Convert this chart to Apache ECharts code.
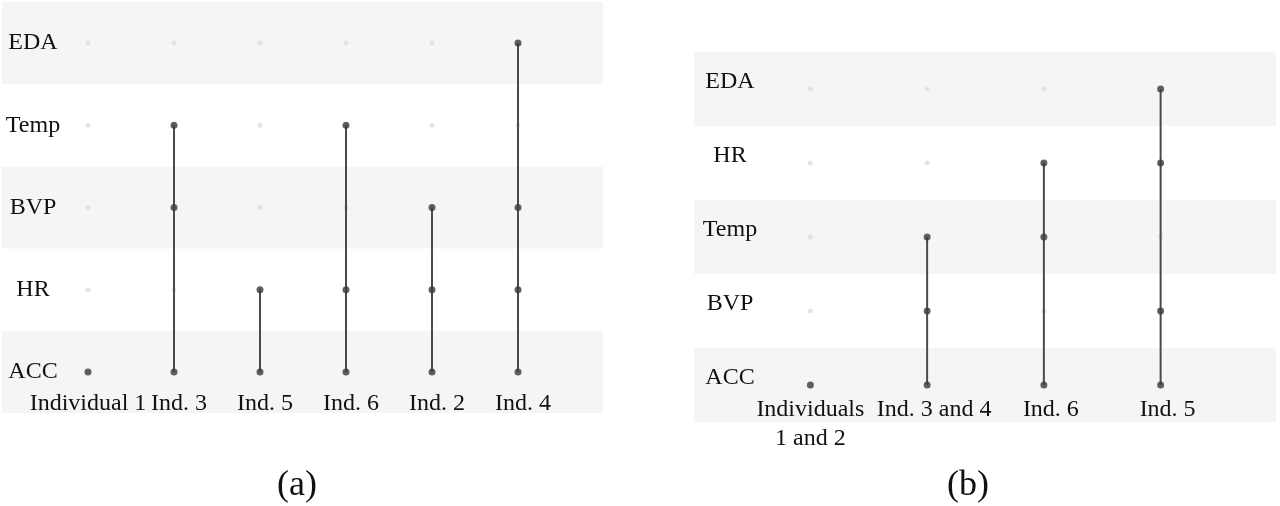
<!DOCTYPE html>
<html>
<head>
<meta charset="utf-8">
<script src="https://cdn.jsdelivr.net/npm/echarts@6/dist/echarts.min.js"></script>
<style>
  html, body { margin: 0; padding: 0; background: #fff; }
  #chart { width: 1280px; height: 506px; }
</style>
</head>
<body>
<div id="chart"></div>
<script>
// panel (a): sensors bottom -> top, individuals left -> right
const rowsA = ['ACC', 'HR', 'BVP', 'Temp', 'EDA'];
const colsA = ['Individual 1', 'Ind. 3', 'Ind. 5', 'Ind. 6', 'Ind. 2', 'Ind. 4'];
const usedA = [
  ['ACC'],
  ['ACC', 'BVP', 'Temp'],
  ['ACC', 'HR'],
  ['ACC', 'HR', 'Temp'],
  ['ACC', 'HR', 'BVP'],
  ['ACC', 'HR', 'BVP', 'EDA']
];

// panel (b)
const rowsB = ['ACC', 'BVP', 'Temp', 'HR', 'EDA'];
const colsB = ['Individuals\n1 and 2', 'Ind. 3 and 4', 'Ind. 6', 'Ind. 5'];
const usedB = [
  ['ACC'],
  ['ACC', 'BVP', 'Temp'],
  ['ACC', 'Temp', 'HR'],
  ['ACC', 'BVP', 'HR', 'EDA']
];

const FONT = "'Liberation Serif', 'DejaVu Serif', serif";
const BAND = '#f5f5f5';
const DARK = '#3c3c3c';
const LIGHT = '#dedede';

// all cells, faint
function allCells (rows, cols) {
  const out = [];
  cols.forEach(c => rows.forEach(r => out.push([c, r])));
  return out;
}
// used cells, dark
function usedCells (cols, used) {
  const out = [];
  cols.forEach((c, i) => used[i].forEach(r => out.push([c, r])));
  return out;
}
// vertical line from lowest to highest used sensor
function stems (rows, cols, used, axisIdx) {
  const list = [];
  cols.forEach((c, i) => {
    const idx = used[i].map(r => rows.indexOf(r));
    const lo = Math.min(...idx), hi = Math.max(...idx);
    if (hi > lo) {
      list.push({
        type: 'line',
        xAxisIndex: axisIdx, yAxisIndex: axisIdx,
        data: [[c, rows[lo]], [c, rows[hi]]],
        symbol: 'none',
        lineStyle: { color: '#4a4a4a', width: 2 },
        silent: true, z: 3
      });
    }
  });
  return list;
}

function bgAxes (rows) {
  return {
    x: { type: 'value', show: false },
    y: {
      type: 'category', data: rows,
      axisLine: { show: false }, axisTick: { show: false },
      axisLabel: { show: false }, splitLine: { show: false },
      splitArea: { show: true, areaStyle: { color: [BAND, '#ffffff'] } }
    }
  };
}

// labels after the first one sit a bit right of their column
function shifted (value, index) {
  const tag = index > 0 ? 'r' : 'c';
  return value.split('\n').map(s => '{' + tag + '|' + s + '}').join('\n');
}
function labelRich (shift, lh) {
  const base = { fontFamily: FONT, fontSize: 24, color: '#111', lineHeight: lh };
  return {
    c: Object.assign({}, base),
    r: Object.assign({ padding: [0, 0, 0, shift * 2] }, base)
  };
}

const bgA = bgAxes(rowsA);
const bgB = bgAxes(rowsB);

const chart = echarts.init(document.getElementById('chart'));
chart.setOption({
  animation: false,
  title: [
    { text: '(a)', left: 292, top: 463, textAlign: 'center',
      textStyle: { fontFamily: FONT, fontSize: 36, fontWeight: 'normal', color: '#111' } },
    { text: '(b)', left: 963, top: 463, textAlign: 'center',
      textStyle: { fontFamily: FONT, fontSize: 36, fontWeight: 'normal', color: '#111' } }
  ],
  grid: [
    { left: 2, top: 2, width: 601, height: 411 },
    { left: 45, top: 2, width: 516, height: 411 },
    { left: 694, top: 52, width: 582, height: 370 },
    { left: 752, top: 52, width: 467, height: 370 }
  ],
  xAxis: [
    Object.assign({ gridIndex: 0 }, bgA.x),
    {
      gridIndex: 1, type: 'category', data: colsA,
      axisLine: { show: false }, axisTick: { show: false },
      axisLabel: { inside: true, margin: 9, verticalAlign: 'middle', interval: 0,
        formatter: shifted, rich: labelRich(5, 26),
        fontFamily: FONT, fontSize: 24, color: '#111' }
    },
    Object.assign({ gridIndex: 2 }, bgB.x),
    {
      gridIndex: 3, type: 'category', data: colsB,
      axisLine: { show: false }, axisTick: { show: false },
      axisLabel: { inside: true, margin: 27, verticalAlign: 'top', interval: 0, lineHeight: 29,
        formatter: shifted, rich: labelRich(7, 29),
        fontFamily: FONT, fontSize: 24, color: '#111' }
    }
  ],
  yAxis: [
    Object.assign({ gridIndex: 0 }, bgA.y),
    {
      gridIndex: 1, type: 'category', data: rowsA,
      axisLine: { show: false }, axisTick: { show: false }, splitLine: { show: false },
      axisLabel: { margin: 12, align: 'center', fontFamily: FONT, fontSize: 24, color: '#111' }
    },
    Object.assign({ gridIndex: 2 }, bgB.y),
    {
      gridIndex: 3, type: 'category', data: rowsB,
      axisLine: { show: false }, axisTick: { show: false }, splitLine: { show: false },
      axisLabel: { margin: 22, align: 'center', verticalAlign: 'bottom', lineHeight: 14,
        fontFamily: FONT, fontSize: 24, color: '#111' }
    }
  ],
  series: [
    { type: 'scatter', xAxisIndex: 1, yAxisIndex: 1, data: allCells(rowsA, colsA),
      symbolSize: 5, itemStyle: { color: LIGHT }, silent: true, z: 2 },
    ...stems(rowsA, colsA, usedA, 1),
    { type: 'scatter', xAxisIndex: 1, yAxisIndex: 1, data: usedCells(colsA, usedA),
      symbolSize: 7, itemStyle: { color: DARK }, silent: true, z: 4 },

    { type: 'scatter', xAxisIndex: 3, yAxisIndex: 3, data: allCells(rowsB, colsB),
      symbolSize: 5, itemStyle: { color: LIGHT }, silent: true, z: 2 },
    ...stems(rowsB, colsB, usedB, 3),
    { type: 'scatter', xAxisIndex: 3, yAxisIndex: 3, data: usedCells(colsB, usedB),
      symbolSize: 7, itemStyle: { color: DARK }, silent: true, z: 4 }
  ]
});
</script>
</body>
</html>
